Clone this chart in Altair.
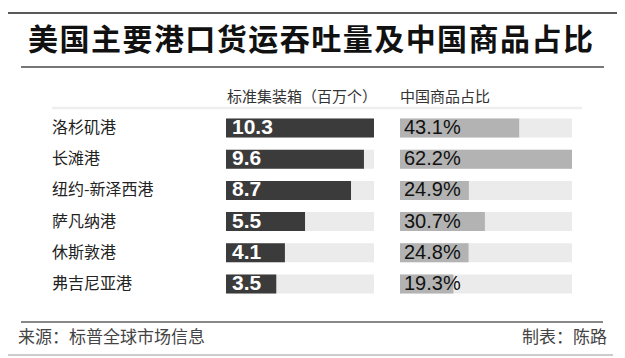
import altair as alt
import pandas as pd

title_text = "美国主要港口货运吞吐量及中国商品占比"
ports = ["洛杉矶港", "长滩港", "纽约-新泽西港", "萨凡纳港", "休斯敦港", "弗吉尼亚港"]
teu = [10.3, 9.6, 8.7, 5.5, 4.1, 3.5]
share = [43.1, 62.2, 24.9, 30.7, 24.8, 19.3]
header_left = "标准集装箱（百万个）"
header_right = "中国商品占比"
source_text = "来源：标普全球市场信息"
credit_text = "制表：陈路"

W, H = 609, 348
CJK = "Noto Sans CJK SC"
NUM = "Liberation Sans"

df = pd.DataFrame({"port": ports, "teu": teu, "share": share})
df["teu_max"] = max(teu)
df["share_max"] = max(share)
df["teu_label"] = [f"{v:.1f}" for v in teu]
df["share_label"] = [f"{v:.1f}%" for v in share]
df["zero"] = 0

tdf = pd.DataFrame({"ch": list(title_text), "i": list(range(len(title_text)))})

y_enc = alt.Y("port:N", sort=ports, axis=None,
              scale=alt.Scale(range=[104.4, 291.6], paddingInner=0.39, paddingOuter=0.195))
left_scale = alt.Scale(domain=[0, max(teu)], range=[218, 366])
right_scale = alt.Scale(domain=[0, max(share)], range=[392, 564])

base = alt.Chart(df)

bg_left = base.mark_bar(color="#ebebeb").encode(
    x=alt.X("teu_max:Q", scale=left_scale, axis=None), y=y_enc)
bar_left = base.mark_bar(color="#3b3b3b").encode(
    x=alt.X("teu:Q", scale=left_scale, axis=None), y=y_enc)
lab_left = base.mark_text(align="left", baseline="middle", dx=6, font=NUM,
                          fontSize=21, fontWeight="bold", color="white").encode(
    x=alt.X("zero:Q", scale=left_scale, axis=None), y=y_enc, text="teu_label:N")

bg_right = base.mark_bar(color="#ebebeb").encode(
    x=alt.X("share_max:Q", scale=right_scale, axis=None), y=y_enc)
bar_right = base.mark_bar(color="#b3b3b3").encode(
    x=alt.X("share:Q", scale=right_scale, axis=None), y=y_enc)
lab_right = base.mark_text(align="left", baseline="middle", dx=4, font=NUM,
                           fontSize=20, color="#111").encode(
    x=alt.X("zero:Q", scale=right_scale, axis=None), y=y_enc, text="share_label:N")

port_lab = base.mark_text(align="left", baseline="middle", font=CJK,
                          fontSize=16, color="#222").encode(
    x=alt.value(44), y=y_enc, text="port:N")

title = alt.Chart(tdf).mark_text(font=CJK, fontSize=30, fontWeight="bold",
                                 color="#111", baseline="middle").encode(
    x=alt.X("i:Q", scale=alt.Scale(domain=[0, len(title_text) - 1], range=[35, 570]), axis=None),
    y=alt.value(33), text="ch:N")

def txt(s, x, y, size, color, align="left", weight="normal"):
    return alt.Chart(pd.DataFrame({"t": [s]})).mark_text(
        font=CJK, fontSize=size, color=color, align=align, baseline="middle",
        fontWeight=weight).encode(x=alt.value(x), y=alt.value(y), text="t:N")

def rule(x1, x2, y, color, w):
    return alt.Chart(pd.DataFrame({"a": [0]})).mark_rule(color=color, strokeWidth=w).encode(
        x=alt.value(x1), x2=alt.value(x2), y=alt.value(y))

layers = [
    rule(0, 610, 5, "#222", 1.5),
    title,
    rule(13, 596, 59, "#777", 2),
    txt(header_left, 219, 89, 15, "#333"),
    txt(header_right, 392, 89, 15, "#333"),
    rule(44, 574, 100, "#eeeeee", 2.5),
    bg_left, bar_left, lab_left,
    bg_right, bar_right, lab_right,
    port_lab,
    rule(13, 595, 314, "#888", 2),
    txt(source_text, 10, 330, 17, "#444"),
    txt(credit_text, 599, 330, 17, "#444", align="right"),
    rule(0, 605, 347, "#bbb", 1.5),
]

chart = alt.layer(*layers).resolve_scale(x="independent").properties(
    width=W, height=H, padding=0, autosize=alt.AutoSizeParams(type="none"),
    background="white"
).configure_view(stroke=None)

chart.save("out.html", embed_options={"renderer": "svg", "actions": False})
